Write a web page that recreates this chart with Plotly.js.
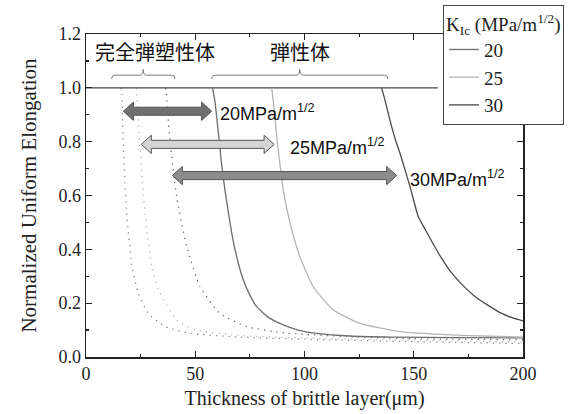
<!DOCTYPE html>
<html>
<head>
<meta charset="utf-8">
<script src="https://cdn.plot.ly/plotly-3.0.1.min.js"></script>
<style>html,body{margin:0;padding:0;background:#fff;}#chart{width:573px;height:414px;}</style>
</head>
<body>
<div id="chart"></div>
<script>
// Elastic (solid) curves
const k20x = [57.9, 59, 60.5, 62, 63.6, 65.5, 67.4, 70, 72, 75, 78.1, 83, 90.3, 97, 105.6, 120.8, 140, 170, 200];
const k20y = [1.0, 0.95, 0.84, 0.72, 0.62, 0.52, 0.43, 0.34, 0.286, 0.23, 0.187, 0.15, 0.119, 0.10, 0.088, 0.078, 0.074, 0.072, 0.071];
const k25x = [85, 86, 87.3, 89, 90.3, 93.4, 97.9, 104, 113.2, 125.4, 143.7, 166.6, 185, 200];
const k25y = [1.0, 0.93, 0.818, 0.70, 0.62, 0.497, 0.373, 0.261, 0.175, 0.125, 0.094, 0.082, 0.077, 0.074];
const k30x = [135.3, 136.8, 139.1, 141.5, 143.7, 148.3, 152.1, 155.5, 158.9, 162.5, 166.6, 172, 178, 184.4, 190, 195, 200];
const k30y = [1.0, 0.955, 0.88, 0.81, 0.757, 0.633, 0.521, 0.47, 0.42, 0.37, 0.32, 0.27, 0.225, 0.19, 0.163, 0.146, 0.134];
// Perfectly elastic-plastic (dotted) curves
const p20x = [16.0, 16.3, 17.1, 18.6, 20.9, 23.9, 28.5, 36.2, 47.6, 70, 110, 150, 200];
const p20y = [1.0, 0.99, 0.78, 0.534, 0.348, 0.237, 0.162, 0.113, 0.088, 0.074, 0.064, 0.057, 0.050];
const p25x = [23.0, 23.2, 24.7, 27, 30.1, 33.9, 41.5, 50.7, 70, 110, 150, 200];
const p25y = [1.0, 0.98, 0.78, 0.534, 0.335, 0.237, 0.137, 0.10, 0.08, 0.068, 0.062, 0.056];
const p30x = [36.4, 36.6, 38.4, 41.5, 46.1, 52.2, 61.3, 73.5, 90, 120, 150, 200];
const p30y = [1.0, 0.99, 0.806, 0.595, 0.41, 0.261, 0.162, 0.113, 0.09, 0.076, 0.068, 0.064];
// Plateau line
const plateauX = [0, 161];
const plateauY = [1.0, 1.0];
// Range arrows
const arrowLabels = ['20MPa/m<sup>1/2</sup>', '25MPa/m<sup>1/2</sup>', '30MPa/m<sup>1/2</sup>'];
const arrowStart = [17.1, 25.3, 39.5];
const arrowEnd = [57.5, 86.1, 142.2];
const arrowY = [0.913, 0.79, 0.674];
const labelX = [60.5, 92.5, 147.5];
const labelY = [0.908, 0.783, 0.662];
const arrowFill = ['#707070', '#d4d4d4', '#8c8c8c'];
// Braces
const braceLabels = ['完全弾塑性体', '弾性体'];
const braceStart = [11.7, 57.5];
const braceEnd = [40.7, 138.2];
const braceLabelX = [31.6, 97.9];
const braceLabelY = [1.134, 1.134];

const cK = ['#6e6e6e', '#b4b4b4', '#4a4a4a'];
const cP = ['#8a8a8a', '#b8b8b8', '#6a6a6a'];

function arrowPath(x0, x1, y) {
  const hl = 4.6, hh = 0.034, sh = 0.015;
  return 'M ' + x0 + ',' + y +
    ' L ' + (x0 + hl) + ',' + (y + hh) +
    ' L ' + (x0 + hl) + ',' + (y + sh) +
    ' L ' + (x1 - hl) + ',' + (y + sh) +
    ' L ' + (x1 - hl) + ',' + (y + hh) +
    ' L ' + x1 + ',' + y +
    ' L ' + (x1 - hl) + ',' + (y - hh) +
    ' L ' + (x1 - hl) + ',' + (y - sh) +
    ' L ' + (x0 + hl) + ',' + (y - sh) +
    ' L ' + (x0 + hl) + ',' + (y - hh) + ' Z';
}
function bracePath(x0, x1) {
  const y0 = 1.047, yt = 1.068, ye = 1.033, d = 1.6;
  const xm = (x0 + x1) / 2;
  return 'M ' + x0 + ',' + ye +
    ' Q ' + x0 + ',' + y0 + ' ' + (x0 + d) + ',' + y0 +
    ' L ' + (xm - d) + ',' + y0 +
    ' Q ' + xm + ',' + y0 + ' ' + xm + ',' + yt +
    ' Q ' + xm + ',' + y0 + ' ' + (xm + d) + ',' + y0 +
    ' L ' + (x1 - d) + ',' + y0 +
    ' Q ' + x1 + ',' + y0 + ' ' + x1 + ',' + ye;
}

const sm = 0.5;
const traces = [
  {x: p20x, y: p20y, mode: 'lines', line: {color: cP[0], width: 1.3, dash: '1.3px,5px', shape: 'spline', smoothing: sm}, showlegend: false},
  {x: p25x, y: p25y, mode: 'lines', line: {color: cP[1], width: 1.3, dash: '1.3px,5px', shape: 'spline', smoothing: sm}, showlegend: false},
  {x: p30x, y: p30y, mode: 'lines', line: {color: cP[2], width: 1.3, dash: '1.3px,5px', shape: 'spline', smoothing: sm}, showlegend: false},
  {x: plateauX, y: plateauY, mode: 'lines', line: {color: '#444', width: 1.3}, showlegend: false},
  {x: k20x, y: k20y, mode: 'lines', name: '20', line: {color: cK[0], width: 1.3, shape: 'spline', smoothing: sm}},
  {x: k25x, y: k25y, mode: 'lines', name: '25', line: {color: cK[1], width: 1.3, shape: 'spline', smoothing: sm}},
  {x: k30x, y: k30y, mode: 'lines', name: '30', line: {color: cK[2], width: 1.3, shape: 'spline', smoothing: sm}}
];

const shapes = [];
const annotations = [];
for (let i = 0; i < arrowStart.length; i++) {
  shapes.push({type: 'path', xref: 'x', yref: 'y', path: arrowPath(arrowStart[i], arrowEnd[i], arrowY[i]),
    fillcolor: arrowFill[i], line: {color: '#555', width: 1}});
  annotations.push({x: labelX[i], y: labelY[i], xref: 'x', yref: 'y', text: arrowLabels[i], showarrow: false,
    xanchor: 'left', yanchor: 'middle', font: {family: 'Liberation Sans', size: 18, color: '#111'}});
}
for (let i = 0; i < braceStart.length; i++) {
  shapes.push({type: 'path', xref: 'x', yref: 'y', path: bracePath(braceStart[i], braceEnd[i]),
    line: {color: '#777', width: 1}});
  annotations.push({x: braceLabelX[i], y: braceLabelY[i], xref: 'x', yref: 'y', text: braceLabels[i], showarrow: false,
    xanchor: 'center', yanchor: 'middle', font: {family: 'Noto Sans CJK JP', size: 20, color: '#111'}});
}

const serif = 'Liberation Serif';
const layout = {
  width: 573, height: 414,
  margin: {l: 86, r: 50, t: 34, b: 57, autoexpand: false},
  paper_bgcolor: '#fff', plot_bgcolor: '#fff',
  font: {family: serif, size: 18, color: '#222'},
  xaxis: {
    range: [0, 200], tickvals: [0, 50, 100, 150, 200], ticks: 'inside', ticklen: 6, tickwidth: 1.2, tickcolor: '#222',
    minor: {tickvals: [25, 75, 125, 175], ticks: 'inside', ticklen: 3, tickcolor: '#222'},
    showline: true, linecolor: '#222', linewidth: 1.5, mirror: 'ticks', showgrid: false, zeroline: false,
    tickfont: {family: serif, size: 18, color: '#222'},
    title: {text: 'Thickness of brittle layer(μm)', font: {family: serif, size: 20, color: '#222'}, standoff: 8}
  },
  yaxis: {
    range: [0, 1.2], tickvals: [0, 0.2, 0.4, 0.6, 0.8, 1.0, 1.2], ticktext: ['0.0', '0.2', '0.4', '0.6', '0.8', '1.0', '1.2'],
    ticks: 'inside', ticklen: 6, tickwidth: 1.2, tickcolor: '#222',
    minor: {tickvals: [0.1, 0.3, 0.5, 0.7, 0.9, 1.1], ticks: 'inside', ticklen: 3, tickcolor: '#222'},
    showline: true, linecolor: '#222', linewidth: 1.5, mirror: 'ticks', showgrid: false, zeroline: false,
    tickfont: {family: serif, size: 18, color: '#222'},
    title: {text: 'Normalized Uniform Elongation', font: {family: serif, size: 21, color: '#222'}, standoff: 16}
  },
  legend: {
    x: 0.817, y: 1.09, xanchor: 'left', yanchor: 'top',
    bgcolor: '#fff', bordercolor: '#444', borderwidth: 1,
    font: {family: serif, size: 19, color: '#222'},
    title: {text: 'K<sub>Ic</sub> (MPa/m<sup>1/2</sup>)', font: {family: serif, size: 19, color: '#222'}},
    tracegroupgap: 0
  },
  shapes: shapes,
  annotations: annotations
};

Plotly.newPlot('chart', traces, layout, {displayModeBar: false, staticPlot: true});
</script>
</body>
</html>
